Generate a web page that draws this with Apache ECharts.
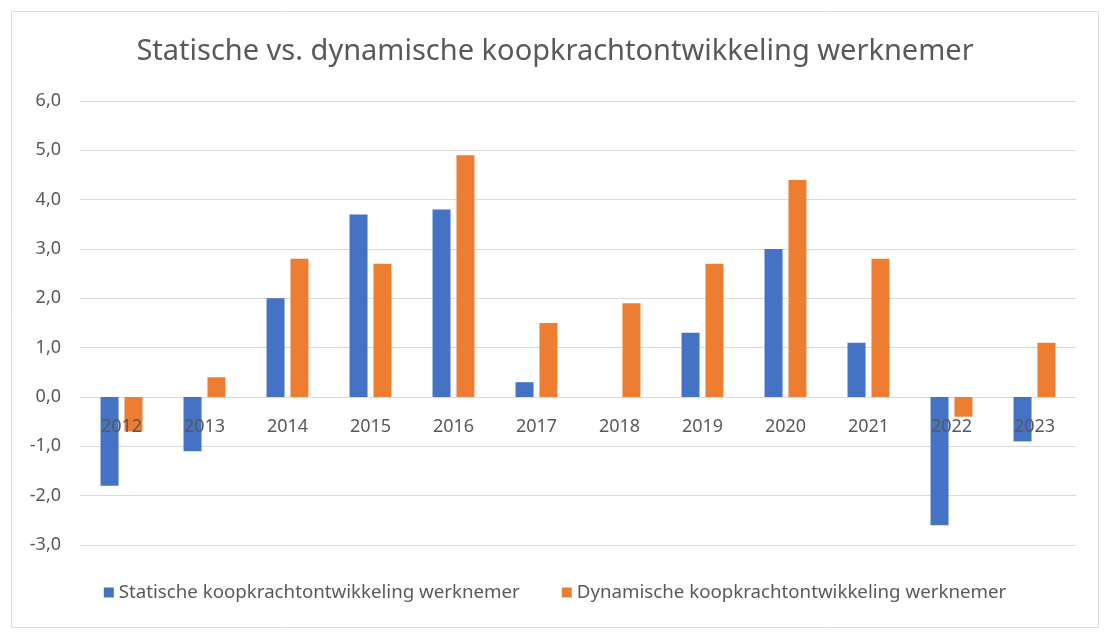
<!DOCTYPE html>
<html><head><meta charset="utf-8">
<script src="https://cdn.jsdelivr.net/npm/echarts@6/dist/echarts.min.js"></script>
<style>html,body{margin:0;padding:0;background:#fff}#c{width:1110px;height:640px}</style>
</head><body><div id="c"></div>
<script>
var years = ['2012','2013','2014','2015','2016','2017','2018','2019','2020','2021','2022','2023'];
var staticVals = [-1.8,-1.1,2.0,3.7,3.8,0.3,0.0,1.3,3.0,1.1,-2.6,-0.9];
var dynamicVals = [-0.7,0.4,2.8,2.7,4.9,1.5,1.9,2.7,4.4,2.8,-0.4,1.1];
var seriesNames = ['Statische koopkrachtontwikkeling werknemer','Dynamische koopkrachtontwikkeling werknemer'];
var titleText = 'Statische vs. dynamische koopkrachtontwikkeling werknemer';
var ff = '"Noto Sans", sans-serif';
var chart = echarts.init(document.getElementById('c'));
chart.setOption({
  animation:false,
  title:{text:titleText,left:'center',top:32,textStyle:{fontFamily:ff,fontSize:29,fontWeight:'normal',color:'#595959'}},
  legend:{top:578,left:'center',itemWidth:10,itemHeight:10,itemGap:42,icon:'rect',
    textStyle:{fontFamily:ff,fontSize:18.7,color:'#595959'}},
  grid:{left:80,right:34,top:101,bottom:95,containLabel:false},
  xAxis:{type:'category',data:years,position:'bottom',offset:-148,z:10,axisLine:{show:false,onZero:false},axisTick:{show:false},
    axisLabel:{fontFamily:ff,fontSize:18,color:'#595959',margin:21}},
  yAxis:{type:'value',min:-3,max:6,interval:1,
    axisLabel:{fontFamily:ff,fontSize:18,color:'#595959',margin:19,formatter:function(v){return v.toFixed(1).replace('.',',');}},
    splitLine:{lineStyle:{color:'#d9d9d9',width:1}},axisLine:{show:false},axisTick:{show:false}},
  series:[
    {name:seriesNames[0],type:'bar',z:2,data:staticVals,barWidth:18,barGap:'33%',itemStyle:{color:'#4472c4'}},
    {name:seriesNames[1],type:'bar',z:2,data:dynamicVals,barWidth:18,barGap:'33%',itemStyle:{color:'#ed7d31'}}
  ],
  graphic:[{type:'rect',shape:{x:11.5,y:11.5,width:1087,height:616},style:{fill:null,stroke:'#d9d9d9',lineWidth:1},silent:true}]
});
</script></body></html>
